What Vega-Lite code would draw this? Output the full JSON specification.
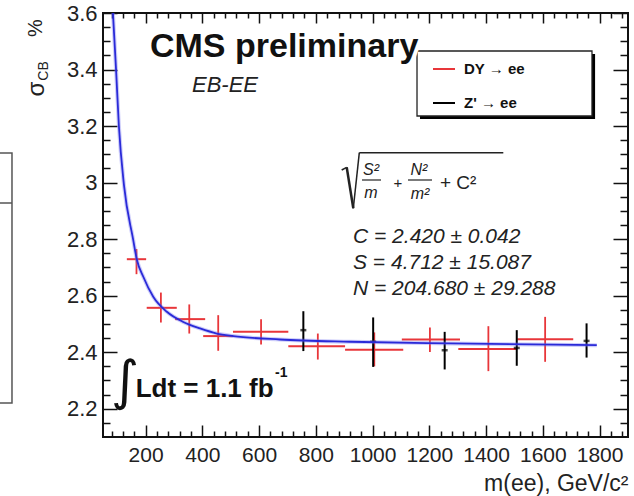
{
  "$schema": "https://vega.github.io/schema/vega-lite/v6.json",
  "width": 525,
  "height": 424,
  "autosize": {"type": "none"},
  "padding": {"left": 103, "top": 13, "right": 6, "bottom": 59},
  "background": "white",
  "config": {
    "font": "Liberation Sans",
    "view": {"stroke": "#111111", "strokeWidth": 2},
    "axis": {"domain": false, "grid": false, "tickColor": "#111111", "tickWidth": 1.5, "labelColor": "#222222", "labelFont": "Liberation Sans", "labelOverlap": false, "labelFlush": false, "labelBound": false}
  },
  "data": {"values": [{"note": "annotation"}]},
  "datasets": {
    "dy": [
      {"series": "DY → ee", "m": 168, "mlo": 134, "mhi": 202, "sigma": 2.729, "slo": 2.676, "shi": 2.765},
      {"series": "DY → ee", "m": 254, "mlo": 204, "mhi": 310, "sigma": 2.557, "slo": 2.505, "shi": 2.611},
      {"series": "DY → ee", "m": 354, "mlo": 304, "mhi": 410, "sigma": 2.517, "slo": 2.466, "shi": 2.569},
      {"series": "DY → ee", "m": 456, "mlo": 403, "mhi": 509, "sigma": 2.457, "slo": 2.405, "shi": 2.531},
      {"series": "DY → ee", "m": 607, "mlo": 508, "mhi": 703, "sigma": 2.472, "slo": 2.427, "shi": 2.517},
      {"series": "DY → ee", "m": 807, "mlo": 703, "mhi": 903, "sigma": 2.421, "slo": 2.374, "shi": 2.466},
      {"series": "DY → ee", "m": 1006, "mlo": 903, "mhi": 1108, "sigma": 2.409, "slo": 2.35, "shi": 2.47},
      {"series": "DY → ee", "m": 1202, "mlo": 1103, "mhi": 1308, "sigma": 2.445, "slo": 2.401, "shi": 2.487},
      {"series": "DY → ee", "m": 1408, "mlo": 1302, "mhi": 1508, "sigma": 2.411, "slo": 2.333, "shi": 2.492},
      {"series": "DY → ee", "m": 1608, "mlo": 1510, "mhi": 1707, "sigma": 2.446, "slo": 2.366, "shi": 2.525}
    ],
    "zp": [
      {"series": "Z' → ee", "m": 756, "sigma": 2.478, "slo": 2.404, "shi": 2.545},
      {"series": "Z' → ee", "m": 1002, "sigma": 2.437, "slo": 2.348, "shi": 2.523},
      {"series": "Z' → ee", "m": 1254, "sigma": 2.407, "slo": 2.339, "shi": 2.472},
      {"series": "Z' → ee", "m": 1508, "sigma": 2.415, "slo": 2.352, "shi": 2.478},
      {"series": "Z' → ee", "m": 1754, "sigma": 2.44, "slo": 2.381, "shi": 2.502}
    ],
    "fit": [
      {"m": 85, "sigma": 3.6},
      {"m": 96, "sigma": 3.4},
      {"m": 106, "sigma": 3.2},
      {"m": 124, "sigma": 2.99},
      {"m": 156, "sigma": 2.8},
      {"m": 169, "sigma": 2.729},
      {"m": 192, "sigma": 2.667},
      {"m": 227, "sigma": 2.596},
      {"m": 275, "sigma": 2.543},
      {"m": 333, "sigma": 2.507},
      {"m": 392, "sigma": 2.484},
      {"m": 451, "sigma": 2.466},
      {"m": 509, "sigma": 2.457},
      {"m": 674, "sigma": 2.445},
      {"m": 920, "sigma": 2.437},
      {"m": 1273, "sigma": 2.431},
      {"m": 1790, "sigma": 2.425}
    ]
  },
  "resolve": {"axis": {"x": "independent", "y": "independent"}},
  "layer": [
    {
      "mark": {"type": "rect", "fill": null, "filled": false, "stroke": "#555555", "strokeWidth": 1.5},
      "encoding": {
        "x": {"datum": -420, "type": "quantitative", "axis": null},
        "x2": {"datum": -270.7},
        "y": {"datum": 2.2203, "type": "quantitative", "axis": null},
        "y2": {"datum": 3.1047}
      }
    },
    {
      "mark": {"type": "rule", "stroke": "#555555", "strokeWidth": 1.5},
      "encoding": {
        "x": {"datum": -420, "type": "quantitative", "axis": null},
        "x2": {"datum": -270.7},
        "y": {"datum": 2.9278, "type": "quantitative", "axis": null}
      }
    },
    {
      "data": {"name": "dy"},
      "mark": {"type": "rule", "strokeWidth": 2},
      "encoding": {
        "x": {"field": "mlo", "type": "quantitative", "scale": {"domain": [50, 1900], "nice": false, "zero": false},
          "axis": {"orient": "bottom", "values": [200, 400, 600, 800, 1000, 1200, 1400, 1600, 1800], "format": "d", "tickSize": -12, "labelFontSize": 21, "labelPadding": 19,
            "title": "m(ee), GeV/c²", "titleFontSize": 23, "titleFontWeight": "normal", "titleColor": "#222222", "titleX": 525, "titleY": 53, "titleAlign": "right", "titleBaseline": "alphabetic", "titleAnchor": "end"}},
        "x2": {"field": "mhi"},
        "y": {"field": "sigma", "type": "quantitative", "scale": {"domain": [2.1, 3.6], "nice": false, "zero": false},
          "axis": {"orient": "left", "values": [2.2, 2.4, 2.6, 2.8, 3, 3.2, 3.4, 3.6], "format": "~g", "tickSize": -14, "labelFontSize": 22, "labelPadding": 20, "title": null}},
        "color": {"field": "series", "type": "nominal",
          "scale": {"domain": ["DY → ee", "Z' → ee"], "range": ["#e8363a", "#000000"]},
          "legend": {"orient": "none", "legendX": 329, "legendY": 44, "title": null, "symbolType": "stroke", "symbolSize": 484, "symbolStrokeWidth": 2,
            "labelFontSize": 15, "labelFontWeight": "bold", "labelOffset": 8, "rowPadding": 14, "padding": 0, "labelFont": "Liberation Sans", "labelColor": "#111111"}}
      }
    },
    {
      "data": {"name": "dy"},
      "mark": {"type": "rule", "strokeWidth": 1.8},
      "encoding": {
        "x": {"field": "m", "type": "quantitative", "scale": {"domain": [50, 1900], "nice": false, "zero": false},
          "axis": {"orient": "bottom", "values": [80, 120, 160, 240, 280, 320, 360, 440, 480, 520, 560, 640, 680, 720, 760, 840, 880, 920, 960, 1040, 1080, 1120, 1160, 1240, 1280, 1320, 1360, 1440, 1480, 1520, 1560, 1640, 1680, 1720, 1760, 1840, 1880], "tickSize": -6, "labels": false, "title": null}},
        "y": {"field": "slo", "type": "quantitative", "scale": {"domain": [2.1, 3.6], "nice": false, "zero": false},
          "axis": {"orient": "left", "values": [2.15, 2.25, 2.3, 2.35, 2.45, 2.5, 2.55, 2.65, 2.7, 2.75, 2.85, 2.9, 2.95, 3.05, 3.1, 3.15, 3.25, 3.3, 3.35, 3.45, 3.5, 3.55], "tickSize": -7, "labels": false, "title": null}},
        "y2": {"field": "shi"},
        "color": {"field": "series", "type": "nominal", "scale": {"domain": ["DY → ee", "Z' → ee"], "range": ["#e8363a", "#000000"]}}
      }
    },
    {
      "data": {"name": "zp"},
      "mark": {"type": "rule", "strokeWidth": 2},
      "encoding": {
        "x": {"field": "m", "type": "quantitative", "scale": {"domain": [50, 1900], "nice": false, "zero": false},
          "axis": {"orient": "top", "values": [200, 400, 600, 800, 1000, 1200, 1400, 1600, 1800], "tickSize": -10, "labels": false, "title": null}},
        "y": {"field": "slo", "type": "quantitative", "scale": {"domain": [2.1, 3.6], "nice": false, "zero": false},
          "axis": {"orient": "right", "values": [2.2, 2.4, 2.6, 2.8, 3, 3.2, 3.4, 3.6], "tickSize": -15, "labels": false, "title": null}},
        "y2": {"field": "shi"},
        "color": {"field": "series", "type": "nominal", "scale": {"domain": ["DY → ee", "Z' → ee"], "range": ["#e8363a", "#000000"]}}
      }
    },
    {
      "data": {"name": "zp"},
      "mark": {"type": "tick", "orient": "horizontal", "size": 6, "thickness": 2.5, "color": "#000000"},
      "encoding": {
        "x": {"field": "m", "type": "quantitative", "scale": {"domain": [50, 1900], "nice": false, "zero": false},
          "axis": {"orient": "top", "values": [80, 120, 160, 240, 280, 320, 360, 440, 480, 520, 560, 640, 680, 720, 760, 840, 880, 920, 960, 1040, 1080, 1120, 1160, 1240, 1280, 1320, 1360, 1440, 1480, 1520, 1560, 1640, 1680, 1720, 1760, 1840, 1880], "tickSize": -5, "labels": false, "title": null}},
        "y": {"field": "sigma", "type": "quantitative", "scale": {"domain": [2.1, 3.6], "nice": false, "zero": false},
          "axis": {"orient": "right", "values": [2.15, 2.25, 2.3, 2.35, 2.45, 2.5, 2.55, 2.65, 2.7, 2.75, 2.85, 2.9, 2.95, 3.05, 3.1, 3.15, 3.25, 3.3, 3.35, 3.45, 3.5, 3.55], "tickSize": -8, "labels": false, "title": null}}
      }
    },
    {
      "data": {"name": "fit"},
      "mark": {"type": "line", "interpolate": "monotone", "color": "#6f6ff2", "strokeWidth": 4, "opacity": 0.35, "clip": true},
      "encoding": {
        "x": {"field": "m", "type": "quantitative", "axis": null},
        "y": {"field": "sigma", "type": "quantitative", "axis": null}
      }
    },
    {
      "data": {"name": "fit"},
      "mark": {"type": "line", "interpolate": "monotone", "color": "#2a2ad8", "strokeWidth": 1.8, "clip": true},
      "encoding": {
        "x": {"field": "m", "type": "quantitative", "axis": null},
        "y": {"field": "sigma", "type": "quantitative", "axis": null}
      }
    },
    {
      "mark": {"type": "rect", "color": "#000000"},
      "encoding": {
        "x": {"datum": 1167, "type": "quantitative", "axis": null},
        "x2": {"datum": 1784},
        "y": {"datum": 3.225, "type": "quantitative", "axis": null},
        "y2": {"datum": 3.455}
      }
    },
    {
      "mark": {"type": "rect", "fill": "#ffffff", "stroke": "#222222", "strokeWidth": 1.3},
      "encoding": {
        "x": {"datum": 1156.5, "type": "quantitative", "axis": null},
        "x2": {"datum": 1773.1},
        "y": {"datum": 3.2356, "type": "quantitative", "axis": null},
        "y2": {"datum": 3.4656}
      }
    },
    {
      "mark": {"type": "text", "align": "left", "baseline": "alphabetic", "fontSize": 34, "fontWeight": "bold", "stroke": "#ffffff", "strokeWidth": 8, "fill": "#ffffff"},
      "encoding": {
        "x": {"datum": 215.6, "type": "quantitative", "axis": null},
        "y": {"datum": 3.4443, "type": "quantitative", "axis": null},
        "text": {"value": "CMS preliminary"}
      }
    },
    {
      "mark": {"type": "text", "align": "left", "baseline": "alphabetic", "fontSize": 34, "fontWeight": "bold", "color": "#111111"},
      "encoding": {
        "x": {"datum": 215.6, "type": "quantitative", "axis": null},
        "y": {"datum": 3.4443, "type": "quantitative", "axis": null},
        "text": {"value": "CMS preliminary"}
      }
    },
    {
      "mark": {"type": "text", "align": "left", "baseline": "alphabetic", "fontSize": 22, "fontStyle": "italic", "color": "#222222"},
      "encoding": {
        "x": {"datum": 363.6, "type": "quantitative", "axis": null},
        "y": {"datum": 3.3205, "type": "quantitative", "axis": null},
        "text": {"value": "EB-EE"}
      }
    },
    {
      "mark": {"type": "text", "align": "left", "baseline": "alphabetic", "fontSize": 21, "fontStyle": "italic", "color": "#222222", "lineHeight": 26},
      "encoding": {
        "x": {"datum": 931, "type": "quantitative", "axis": null},
        "y": {"datum": 2.7863, "type": "quantitative", "axis": null},
        "text": {"value": ["C = 2.420 ± 0.042", "S = 4.712 ± 15.087", "N = 204.680 ± 29.288"]}
      }
    },
    {
      "mark": {"type": "rule", "color": "#222222", "strokeWidth": 1.5},
      "encoding": {
        "x": {"datum": 891.1, "type": "quantitative", "axis": null},
        "x2": {"datum": 908.8},
        "y": {"datum": 3.0446, "type": "quantitative", "axis": null},
        "y2": {"datum": 3.0541}
      }
    },
    {
      "mark": {"type": "rule", "color": "#222222", "strokeWidth": 2.5},
      "encoding": {
        "x": {"datum": 908.8, "type": "quantitative", "axis": null},
        "x2": {"datum": 932.0},
        "y": {"datum": 3.0541, "type": "quantitative", "axis": null},
        "y2": {"datum": 2.9091}
      }
    },
    {
      "mark": {"type": "rule", "color": "#222222", "strokeWidth": 1.5},
      "encoding": {
        "x": {"datum": 932.0, "type": "quantitative", "axis": null},
        "x2": {"datum": 953.2},
        "y": {"datum": 2.9091, "type": "quantitative", "axis": null},
        "y2": {"datum": 3.1058}
      }
    },
    {
      "mark": {"type": "rule", "color": "#222222", "strokeWidth": 1.5},
      "encoding": {
        "x": {"datum": 953.2, "type": "quantitative", "axis": null},
        "x2": {"datum": 1460.6},
        "y": {"datum": 3.1058, "type": "quantitative", "axis": null}
      }
    },
    {
      "mark": {"type": "rule", "color": "#222222", "strokeWidth": 1.2},
      "encoding": {
        "x": {"datum": 962.7, "type": "quantitative", "axis": null},
        "x2": {"datum": 1029.6},
        "y": {"datum": 3.0092, "type": "quantitative", "axis": null}
      }
    },
    {
      "mark": {"type": "rule", "color": "#222222", "strokeWidth": 1.2},
      "encoding": {
        "x": {"datum": 1124.8, "type": "quantitative", "axis": null},
        "x2": {"datum": 1209.3},
        "y": {"datum": 3.0092, "type": "quantitative", "axis": null}
      }
    },
    {
      "mark": {"type": "text", "align": "center", "baseline": "middle", "fontSize": 16, "fontStyle": "italic", "color": "#222222"},
      "encoding": {
        "x": {"datum": 994.4, "type": "quantitative", "axis": null},
        "y": {"datum": 3.0446, "type": "quantitative", "axis": null},
        "text": {"value": "S²"}
      }
    },
    {
      "mark": {"type": "text", "align": "center", "baseline": "middle", "fontSize": 16, "fontStyle": "italic", "color": "#222222"},
      "encoding": {
        "x": {"datum": 994.4, "type": "quantitative", "axis": null},
        "y": {"datum": 2.9632, "type": "quantitative", "axis": null},
        "text": {"value": "m"}
      }
    },
    {
      "mark": {"type": "text", "align": "center", "baseline": "middle", "fontSize": 15, "color": "#222222"},
      "encoding": {
        "x": {"datum": 1089.5, "type": "quantitative", "axis": null},
        "y": {"datum": 2.9986, "type": "quantitative", "axis": null},
        "text": {"value": "+"}
      }
    },
    {
      "mark": {"type": "text", "align": "center", "baseline": "middle", "fontSize": 16, "fontStyle": "italic", "color": "#222222"},
      "encoding": {
        "x": {"datum": 1163.5, "type": "quantitative", "axis": null},
        "y": {"datum": 3.0446, "type": "quantitative", "axis": null},
        "text": {"value": "N²"}
      }
    },
    {
      "mark": {"type": "text", "align": "center", "baseline": "middle", "fontSize": 16, "fontStyle": "italic", "color": "#222222"},
      "encoding": {
        "x": {"datum": 1167, "type": "quantitative", "axis": null},
        "y": {"datum": 2.9597, "type": "quantitative", "axis": null},
        "text": {"value": "m²"}
      }
    },
    {
      "mark": {"type": "text", "align": "left", "baseline": "middle", "fontSize": 19, "color": "#222222"},
      "encoding": {
        "x": {"datum": 1237.5, "type": "quantitative", "axis": null},
        "y": {"datum": 2.9986, "type": "quantitative", "axis": null},
        "text": {"value": "+ C²"}
      }
    },
    {
      "mark": {"type": "text", "align": "center", "baseline": "middle", "fontSize": 54, "font": "DejaVu Sans", "color": "#111111"},
      "encoding": {
        "x": {"datum": 128, "type": "quantitative", "axis": null},
        "y": {"datum": 2.2893, "type": "quantitative", "axis": null},
        "text": {"value": "∫"}
      }
    },
    {
      "mark": {"type": "text", "align": "left", "baseline": "alphabetic", "fontSize": 26, "fontWeight": "bold", "color": "#111111"},
      "encoding": {
        "x": {"datum": 165, "type": "quantitative", "axis": null},
        "y": {"datum": 2.2415, "type": "quantitative", "axis": null},
        "text": {"value": "Ldt = 1.1 fb"}
      }
    },
    {
      "mark": {"type": "text", "align": "left", "baseline": "alphabetic", "fontSize": 14, "fontWeight": "bold", "color": "#111111"},
      "encoding": {
        "x": {"datum": 656, "type": "quantitative", "axis": null},
        "y": {"datum": 2.3123, "type": "quantitative", "axis": null},
        "text": {"value": "-1"}
      }
    },
    {
      "mark": {"type": "text", "align": "center", "baseline": "middle", "angle": 270, "fontSize": 24, "color": "#222222"},
      "encoding": {
        "x": {"datum": -182.6, "type": "quantitative", "axis": null},
        "y": {"datum": 3.3311, "type": "quantitative", "axis": null},
        "text": {"value": "σ"}
      }
    },
    {
      "mark": {"type": "text", "align": "center", "baseline": "middle", "angle": 270, "fontSize": 14, "color": "#222222"},
      "encoding": {
        "x": {"datum": -157.9, "type": "quantitative", "axis": null},
        "y": {"datum": 3.3948, "type": "quantitative", "axis": null},
        "text": {"value": "CB"}
      }
    },
    {
      "mark": {"type": "text", "align": "center", "baseline": "middle", "angle": 270, "fontSize": 20, "color": "#222222"},
      "encoding": {
        "x": {"datum": -186.1, "type": "quantitative", "axis": null},
        "y": {"datum": 3.5469, "type": "quantitative", "axis": null},
        "text": {"value": "%"}
      }
    }
  ]
}
